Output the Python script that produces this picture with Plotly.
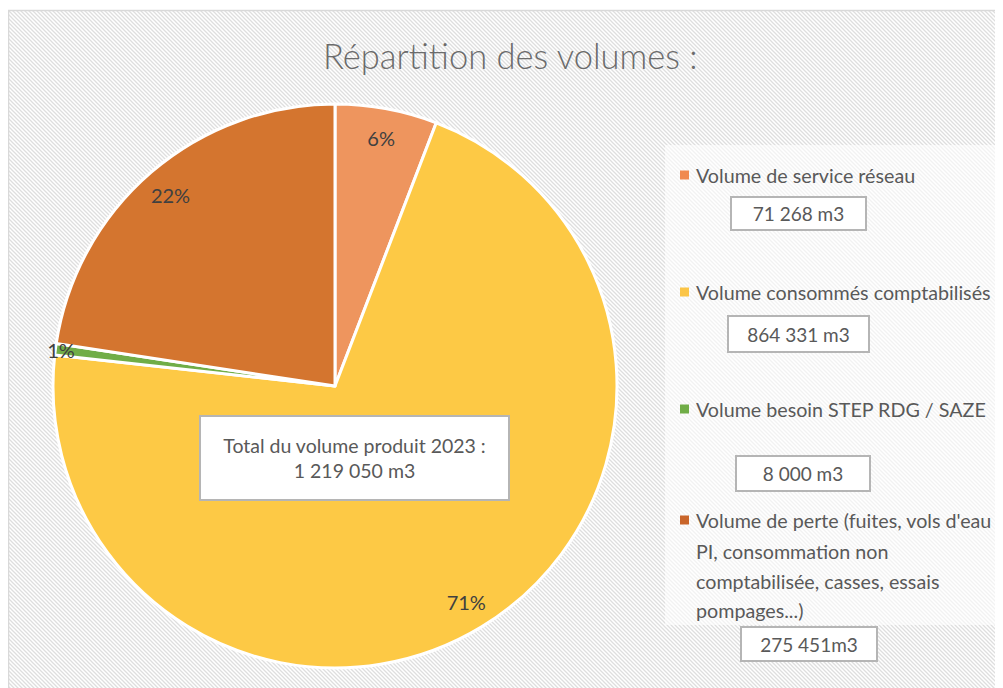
import base64
import plotly.graph_objects as go

# ---- data ----
categories = [
    "Volume de service réseau",
    "Volume consommés comptabilisés",
    "Volume besoin STEP RDG / SAZE",
    "Volume de perte (fuites, vols d'eau PI, consommation non comptabilisée, casses, essais pompages...)",
]
legend_lines = [
    ["Volume de service réseau"],
    ["Volume consommés comptabilisés"],
    ["Volume besoin STEP RDG / SAZE"],
    ["Volume de perte (fuites, vols d'eau", "PI, consommation non", "comptabilisée, casses, essais", "pompages...)"],
]
volumes = [71268, 864331, 8000, 275451]
pct_labels = ["6%", "71%", "1%", "22%"]
value_labels = ["71 268 m3", "864 331 m3", "8 000 m3", "275 451m3"]
title_text = "Répartition des volumes :"
total_text = "Total du volume produit 2023 :<br>1 219 050 m3"

# ---- styles ----
W, H = 1003, 688
OFF = 8  # page offset of the plot div
colors = ["#EE955E", "#FDC945", "#70AD47", "#D4752F"]
marker_colors = ["#F08A50", "#FBC547", "#70AD47", "#C9652A"]
FONT = "Lato, 'Open Sans', sans-serif"
TXT = "#595959"


def px(x):
    return (x - OFF) / W


def py(y):
    return 1 - (y - OFF) / H


# hatched background image (SVG)
fw, fh = W, H
svg = f'''<svg xmlns="http://www.w3.org/2000/svg" width="{fw}" height="{fh}" viewBox="0 0 {fw} {fh}">
<defs><pattern id="h" width="4" height="4" patternUnits="userSpaceOnUse">
<rect width="4" height="4" fill="#ffffff"/>
<path d="M-1,-1 L5,5 M-1,3 L1,5 M3,-1 L5,1" stroke="#dedede" stroke-width="1.3"/>
</pattern></defs>
<rect width="{fw}" height="{fh}" fill="url(#h)"/></svg>'''
svg_uri = "data:image/svg+xml;base64," + base64.b64encode(svg.encode()).decode()

pie_domain = dict(x=[px(53), px(617)], y=[py(668), py(104)])

fig = go.Figure()
fig.add_trace(go.Pie(
    labels=categories,
    values=volumes,
    sort=False,
    direction="clockwise",
    rotation=0,
    marker=dict(colors=colors, line=dict(color="white", width=3)),
    textinfo="none",
    showlegend=False,
    hoverinfo="label+value+percent",
    domain=pie_domain,
))
# transparent ring carrying the percentage labels near the outer edge
fig.add_trace(go.Pie(
    labels=categories,
    values=volumes,
    text=pct_labels,
    sort=False,
    direction="clockwise",
    rotation=0,
    hole=0.79,
    marker=dict(colors=["rgba(0,0,0,0)"] * 4, line=dict(width=0)),
    texttemplate="%{text}",
    textposition="inside",
    insidetextorientation="horizontal",
    textfont=dict(family=FONT, size=20, color="#404040"),
    showlegend=False,
    hoverinfo="skip",
    domain=pie_domain,
))

shapes = [
    dict(type="rect", xref="paper", yref="paper", x0=px(665), x1=1.0, y0=py(625), y1=py(145),
         fillcolor="rgba(255,255,255,0.6)", line=dict(width=0), layer="below"),
    dict(type="rect", xref="paper", yref="paper", x0=px(8.5), x1=1.01, y0=-0.01, y1=py(10.5),
         fillcolor="rgba(0,0,0,0)", line=dict(color="#d9d9d9", width=1.5), layer="below"),
]

annotations = [
    dict(text=title_text, x=px(510), y=py(55), xref="paper", yref="paper", xanchor="center", yanchor="middle",
         showarrow=False, font=dict(family=FONT, size=34.5, color="#6b6b6b", weight=300)),
    dict(text=total_text, x=px(354.5), y=py(458), xref="paper", yref="paper", xanchor="center",
         yanchor="middle", showarrow=False, width=307, height=82, bgcolor="white", bordercolor="#b5b5b5",
         borderwidth=2, borderpad=0, font=dict(family=FONT, size=19.5, color=TXT)),
]

entry_y = [[175], [292], [409], [520, 551, 581, 610]]
box_pos = [(798, 214, 133, 31), (798, 334, 139, 34), (803, 473, 132, 33), (809, 644, 134, 32)]
for i in range(4):
    yy = entry_y[i][0]
    shapes.append(dict(type="rect", xref="paper", yref="paper", x0=px(680), x1=px(689),
                       y0=py(yy + 4.5), y1=py(yy - 4.5), fillcolor=marker_colors[i], line=dict(width=0)))
    for line, ly in zip(legend_lines[i], entry_y[i]):
        annotations.append(dict(text=line, x=px(694), y=py(ly), xref="paper", yref="paper",
                                xanchor="left", yanchor="middle", showarrow=False,
                                font=dict(family=FONT, size=19.7, color=TXT)))
    bx, by, bw, bh = box_pos[i]
    annotations.append(dict(text=value_labels[i], x=px(bx), y=py(by), xref="paper", yref="paper",
                            xanchor="center", yanchor="middle", showarrow=False, width=bw, height=bh,
                            bgcolor="white", bordercolor="#b5b5b5", borderwidth=2, borderpad=0,
                            font=dict(family=FONT, size=19, color=TXT)))

fig.update_layout(
    width=W, height=H,
    margin=dict(l=0, r=0, t=0, b=0),
    paper_bgcolor="white",
    plot_bgcolor="white",
    uniformtext=dict(minsize=20, mode="show"),
    images=[dict(source=svg_uri, xref="paper", yref="paper", x=px(8), y=py(10), sizex=1.0,
                 sizey=1.0, xanchor="left", yanchor="top", sizing="stretch", layer="below")],
    shapes=shapes,
    annotations=annotations,
)

fig.write_html("out.html")
